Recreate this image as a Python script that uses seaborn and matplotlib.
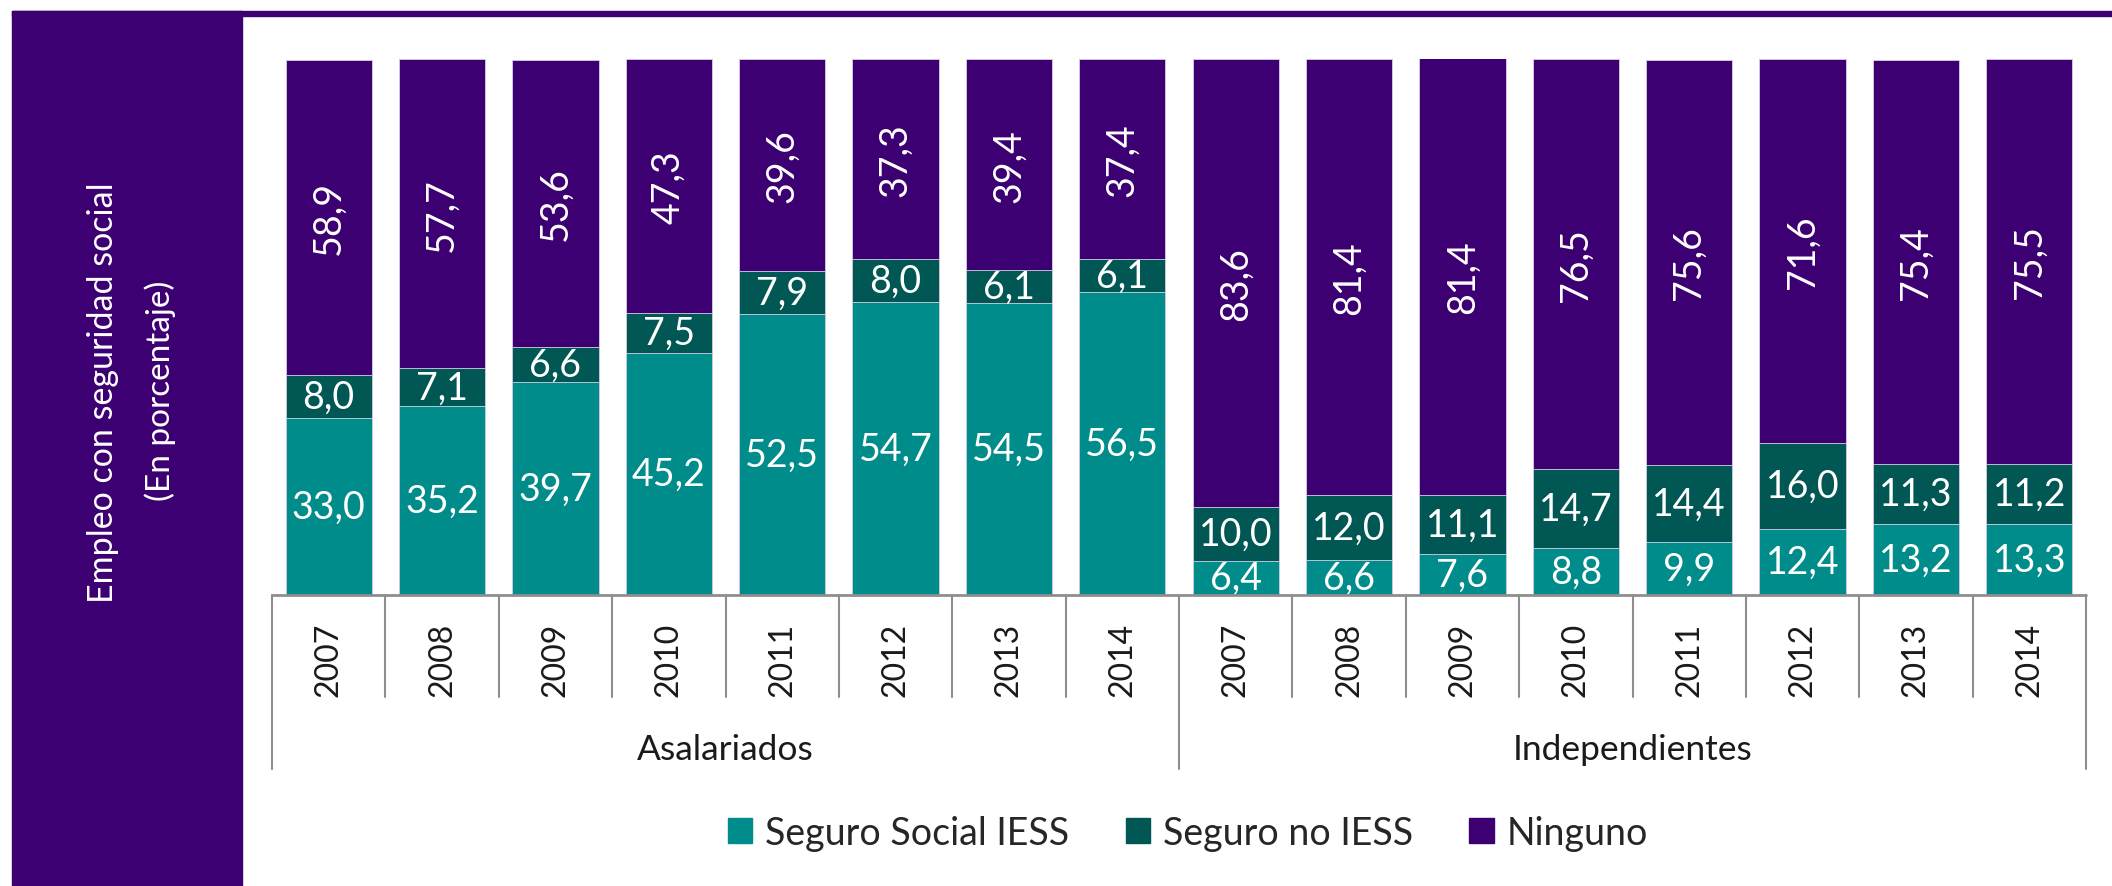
import matplotlib
matplotlib.use("Agg")
import matplotlib.pyplot as plt
import seaborn as sns
import pandas as pd
import numpy as np
from matplotlib.patches import Patch, Rectangle

# --- Data ---
groups = ["Asalariados", "Independientes"]
years = ["2007", "2008", "2009", "2010", "2011", "2012", "2013", "2014"]
series = ["Seguro Social IESS", "Seguro no IESS", "Ninguno"]

iess_asal = [33.0, 35.2, 39.7, 45.2, 52.5, 54.7, 54.5, 56.5]
no_iess_asal = [8.0, 7.1, 6.6, 7.5, 7.9, 8.0, 6.1, 6.1]
ninguno_asal = [58.9, 57.7, 53.6, 47.3, 39.6, 37.3, 39.4, 37.4]

iess_indep = [6.4, 6.6, 7.6, 8.8, 9.9, 12.4, 13.2, 13.3]
no_iess_indep = [10.0, 12.0, 11.1, 14.7, 14.4, 16.0, 11.3, 11.2]
ninguno_indep = [83.6, 81.4, 81.4, 76.5, 75.6, 71.6, 75.4, 75.5]

TEAL = "#008C8A"
DARK = "#005753"
PURPLE = "#3D0072"
GRAY = "#8E8E8E"

# --- Build table ---
df = pd.DataFrame({
    "grupo": [g for g in groups for _ in years],
    "anio": years * len(groups),
    "iess": iess_asal + iess_indep,
    "no_iess": no_iess_asal + no_iess_indep,
    "ninguno": ninguno_asal + ninguno_indep,
})
df["cat"] = df["grupo"] + " " + df["anio"]
df["c1"] = df["iess"]
df["c2"] = df["iess"] + df["no_iess"]
df["c3"] = df["c2"] + df["ninguno"]
order = list(df["cat"])

sns.set_theme(style="white")
plt.rcParams["font.family"] = ["Lato", "DejaVu Sans"]

W, H = 2112, 887
fig = plt.figure(figsize=(W / 100, H / 100), dpi=100)
fig.patch.set_facecolor("white")

# left title panel and top rule
fig.patches.append(Rectangle((12 / W, 0), 230 / W, (H - 12) / H,
                             transform=fig.transFigure, color=PURPLE, zorder=0))
fig.patches.append(Rectangle((12 / W, (H - 17) / H), (W - 12) / W, 5 / H,
                             transform=fig.transFigure, color=PURPLE, zorder=0))
fig.text(103 / W, (H - 393) / H, "Empleo con seguridad social", rotation=90,
         color="white", fontsize=24.5, ha="center", va="center")
fig.text(160 / W, (H - 391) / H, "(En porcentaje)", rotation=90,
         color="white", fontsize=24, ha="center", va="center")

ax = fig.add_axes([272 / W, (H - 596) / H, 1814 / W, 536 / H])

# stacked bars drawn as overlapping cumulative totals
for col, colr in [("c3", PURPLE), ("c2", DARK), ("c1", TEAL)]:
    sns.barplot(data=df, x="cat", y=col, order=order, color=colr, saturation=1,
                width=0.76, errorbar=None, edgecolor="#d8d0e8", linewidth=0.6, ax=ax)

ax.set_xlim(-0.5, len(order) - 0.5)
ax.set_ylim(0, 100)
ax.set_xticks([])
ax.set_yticks([])
ax.set_xlabel("")
ax.set_ylabel("")
sns.despine(ax=ax, left=True, bottom=True)

# value labels
def fmt(v):
    return f"{v:.1f}".replace(".", ",")

for i, row in df.iterrows():
    ax.text(i, row["c1"] / 2, fmt(row["iess"]), ha="center", va="center",
            color="white", fontsize=27)
    ax.text(i, row["c1"] + row["no_iess"] / 2, fmt(row["no_iess"]), ha="center",
            va="center", color="white", fontsize=27)
    ax.text(i, row["c2"] + row["ninguno"] / 2, fmt(row["ninguno"]), ha="center",
            va="center", color="white", fontsize=27, rotation=90)

# category axis: baseline, separators, year and group labels
xt = ax.get_xaxis_transform()
ax.plot([-0.5, len(order) - 0.5], [0, 0], transform=xt, color=GRAY, lw=2,
        clip_on=False, zorder=5)
for k in range(len(order) + 1):
    bottom = -0.325 if k % len(years) == 0 else -0.19
    ax.plot([k - 0.5, k - 0.5], [0, bottom], transform=xt, color=GRAY, lw=1.5,
            clip_on=False)
for i, y in enumerate(df["anio"]):
    ax.text(i, -0.119, y, transform=xt, rotation=90, ha="center", va="center",
            fontsize=23, color="#1a1a1a")
for g_i, g in enumerate(groups):
    ax.text(g_i * len(years) + (len(years) - 1) / 2, -0.287, g, transform=xt,
            ha="center", va="center", fontsize=25.5, color="#1a1a1a")

handles = [Patch(color=c) for c in (TEAL, DARK, PURPLE)]
fig.legend(handles, series, loc="center", bbox_to_anchor=(1188 / W, (H - 834) / H),
           ncol=3, frameon=False, fontsize=27, handlelength=0.65, handleheight=0.65,
           handletextpad=0.35, columnspacing=1.5)

fig.savefig("out.png", dpi=100)
